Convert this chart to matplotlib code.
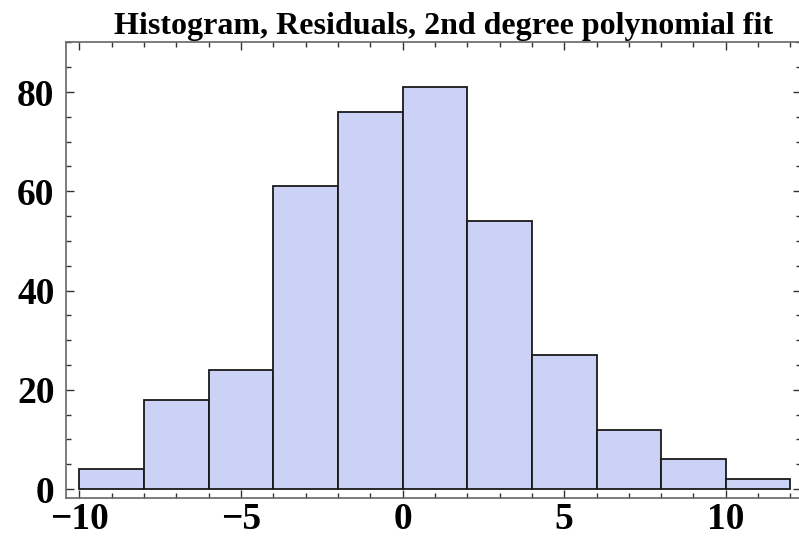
import matplotlib.pyplot as plt
from matplotlib.ticker import MultipleLocator

# residual histogram, bins of width 2
bin_edges = [-10, -8, -6, -4, -2, 0, 2, 4, 6, 8, 10, 12]
counts = [4, 18, 24, 61, 76, 81, 54, 27, 12, 6, 2]

plt.rcParams['font.family'] = ['Liberation Serif', 'DejaVu Serif']
plt.rcParams['font.weight'] = 'bold'

fig = plt.figure(figsize=(7.99, 5.41), dpi=100)
ax = fig.add_axes([0.082, 0.0795, 0.921, 0.843])

lefts = bin_edges[:-1]
widths = [b - a for a, b in zip(bin_edges[:-1], bin_edges[1:])]
ax.bar(lefts, counts, width=widths, align='edge', color='#ccd2f6',
       edgecolor='#1a1a1a', linewidth=1.3, zorder=2)

ax.set_xlim(-10.43, 12.34)
ax.set_ylim(-1.8, 90.1)

ax.xaxis.set_major_locator(MultipleLocator(5))
ax.xaxis.set_minor_locator(MultipleLocator(1))
ax.yaxis.set_major_locator(MultipleLocator(20))
ax.yaxis.set_minor_locator(MultipleLocator(5))

for s in ax.spines.values():
    s.set_color('#666666')
    s.set_linewidth(1.2)

ax.tick_params(which='both', direction='in', top=True, right=True,
               color='#333333', width=1.0)
ax.tick_params(which='major', length=6, labelsize=27)
ax.tick_params(which='minor', length=3.5)
ax.tick_params(axis='x', which='major', pad=3)
ax.tick_params(axis='y', which='major', pad=8)
for lbl in ax.get_xticklabels() + ax.get_yticklabels():
    lbl.set_fontweight('bold')

ax.set_title('Histogram, Residuals, 2nd degree polynomial fit',
             fontsize=23, fontweight='bold', pad=6, x=0.514)

fig.savefig('out.png', dpi=100)
